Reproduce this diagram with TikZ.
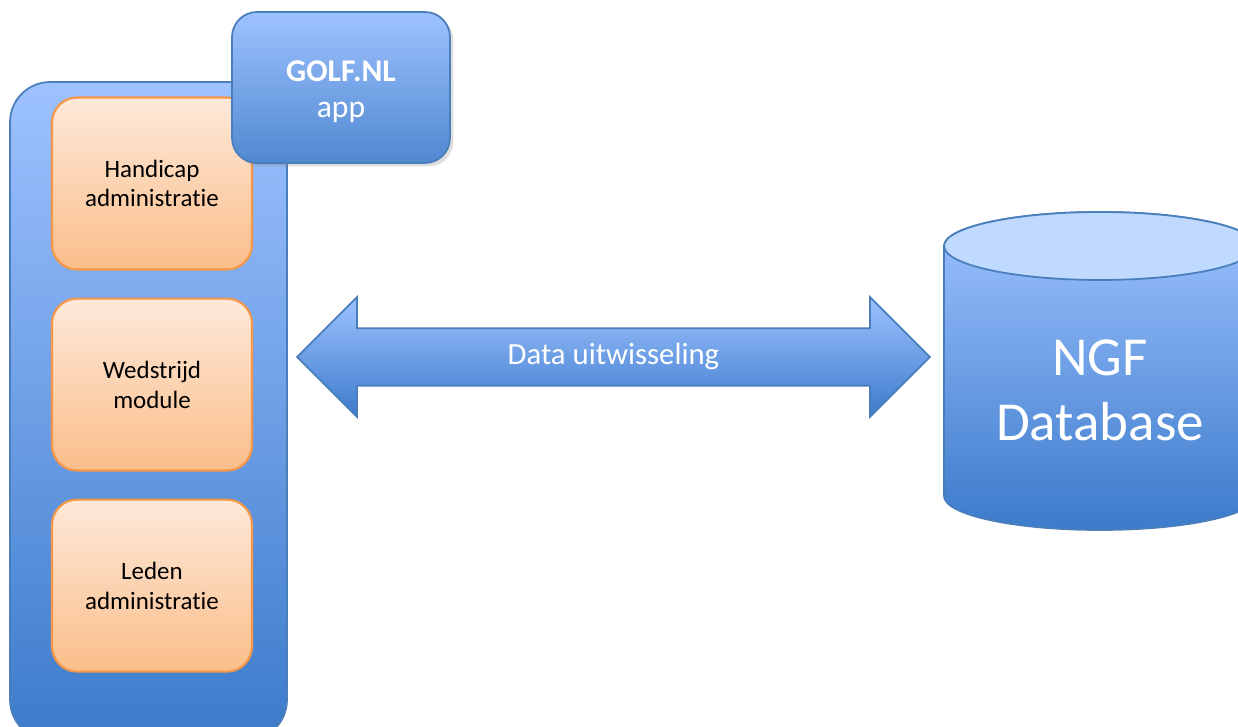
\documentclass[tikz,border=0pt]{standalone}
\usepackage{fontspec}
\setmainfont{Carlito}[Ligatures = {NoCommon, NoContextual, NoRequired}, Contextuals = NoAlternate]
\usepackage{tikz}
\usetikzlibrary{positioning, shapes, shadows}
\tikzset{>=latex}
\definecolor{myblue1}{HTML}{9EC2FF}
\definecolor{myblue2}{HTML}{3C7BCB}
\definecolor{myblue3}{HTML}{4A7EBB}
\definecolor{myblue4}{HTML}{BFD9FF}
\definecolor{myorange1}{HTML}{FDE9DA}
\definecolor{myorange2}{HTML}{FBBE8A}
\definecolor{myorange3}{HTML}{F79646}
\tikzset{
  suitebox/.style = {draw = myblue3, line width = 1, rounded corners = 0.8cm,
    top color = myblue1, bottom color = myblue2,
    minimum width = 5.54cm, minimum height = 13.16cm},
  modulebox/.style = {draw = myorange3, line width = 1.2, rounded corners = 0.5cm,
    top color = myorange1, bottom color = myorange2, align = center,
    minimum width = 4cm, minimum height = 3.44cm,
    font = \fontsize{14.2}{17}\selectfont},
  appbox/.style = {draw = myblue3, line width = 1, rounded corners = 0.5cm,
    top color = myblue1, bottom color = myblue2!90!white, align = center, text = white,
    minimum width = 4.36cm, minimum height = 3.02cm,
    drop shadow = {opacity = 0.25, shadow xshift = 2pt, shadow yshift = -2pt},
    font = \fontsize{18}{20.5}\selectfont},
  dataarrow/.style = {double arrow, double arrow head extend = 0.62cm, draw = myblue3,
    line width = 1, top color = myblue1, bottom color = myblue2, text = white,
    minimum height = 12.66cm, minimum width = 2.4cm, inner xsep = 0pt,
    text height = 0.4cm, text depth = 0.1cm, inner ysep = 0.3cm,
    font = \fontsize{17.5}{20}\selectfont}
}

\begin{document}
\begin{tikzpicture}[x = 0.02cm, y = 0.02cm]
\useasboundingbox (0, 0) rectangle (1238, 727);
\clip (0, 0) rectangle (1238, 727);
\node[suitebox] (suite) at (148.5, 316) {};
\node[modulebox] (handicap) at (152, 543.5) {Handicap\\administratie};
\node[modulebox, below = 0.54cm of handicap] (wedstrijd) {Wedstrijd\\module};
\node[modulebox, below = 0.54cm of wedstrijd] (leden) {Leden\\administratie};
\node[appbox] (app) at (341, 639.5)
  {\raisebox{-0.1cm}[\height][\depth]{\begin{tabular}{@{}c@{}}\textbf{GOLF.NL}\\app\end{tabular}}};
\node[dataarrow] (exchange) at (613.5, 370) {Data uitwisseling};
\shade[top color = myblue1, bottom color = myblue2, draw = myblue3, line width = 1]
  (944, 481) -- (944, 231)
  arc [start angle = 180, end angle = 360, x radius = 3.12cm, y radius = 0.68cm]
  -- (1256, 481)
  arc [start angle = 0, end angle = 180, x radius = 3.12cm, y radius = 0.68cm] -- cycle;
\filldraw[fill = myblue4, draw = myblue3, line width = 1] (1100, 481)
  ellipse [x radius = 3.12cm, y radius = 0.68cm];
\node[text = white, align = center, font = \fontsize{31.3}{37}\selectfont] (db) at (1100, 337)
  {NGF\\Database};
\end{tikzpicture}
\end{document}
